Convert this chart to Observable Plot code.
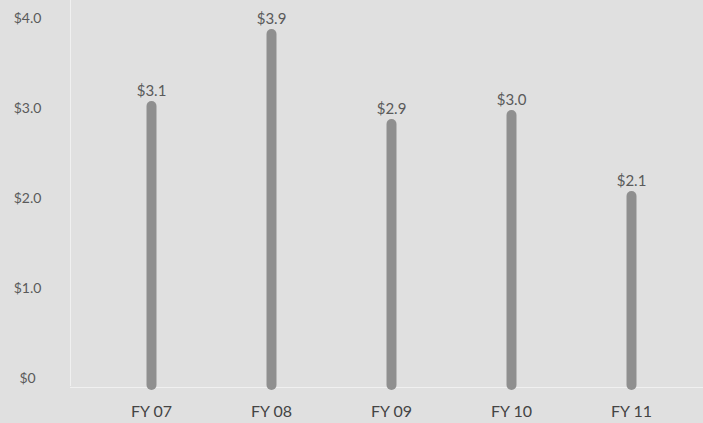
<!DOCTYPE html>
<html>
<head>
<meta charset="utf-8">
<script src="https://cdn.jsdelivr.net/npm/d3@7"></script>
<script src="https://cdn.jsdelivr.net/npm/@observablehq/plot@0.6"></script>
<style>
  html, body { margin: 0; padding: 0; background: #e0e0e0; }
  #chart svg { display: block; }
</style>
</head>
<body>
<div id="chart"></div>
<script>
const years = ["FY 07", "FY 08", "FY 09", "FY 10", "FY 11"];
const values = [3.1, 3.9, 2.9, 3.0, 2.1];
const valueLabels = ["$3.1", "$3.9", "$2.9", "$3.0", "$2.1"];
const yTicks = [0, 1, 2, 3, 4];
const yTickLabels = ["$0", "$1.0", "$2.0", "$3.0", "$4.0"];

const data = years.map((year, i) => ({year, value: values[i], label: valueLabels[i]}));
const tickData = yTicks.map((v, i) => ({v, label: yTickLabels[i]}));

const chart = Plot.plot({
  width: 703,
  height: 423,
  marginLeft: 91,
  marginRight: 12,
  marginTop: 25,
  marginBottom: 38,
  style: {background: "#e0e0e0", fontFamily: "Lato, 'Open Sans', sans-serif", color: "#5a5a5a"},
  x: {type: "point", domain: years, padding: 0.5},
  y: {domain: [0, 4], axis: null},
  marks: [
    Plot.frame({anchor: "left", dx: -21, insetTop: -25, stroke: "#f0f0f0", strokeWidth: 1}),
    Plot.ruleY([0], {dy: 2, stroke: "#f0f0f0", strokeWidth: 1, insetLeft: -21, insetRight: -12}),
    Plot.text(tickData, {
      y: "v",
      text: "label",
      frameAnchor: "left",
      dx: -64,
      dy: -7,
      textAnchor: "middle",
      fontSize: 14,
      fill: "#5a5a5a"
    }),
    Plot.axisX({
      tickSize: 0,
      tickPadding: 20,
      fontSize: 16,
      fill: "#444",
      label: null
    }),
    Plot.ruleX(data, {x: "year", y1: 0, y2: "value", stroke: "#8f8f8f", strokeWidth: 10, strokeLinecap: "round"}),
    Plot.text(data, {x: "year", y: "value", text: "label", dy: -15, fontSize: 15, fill: "#5a5a5a"})
  ]
});
document.getElementById("chart").append(chart);
</script>
</body>
</html>
